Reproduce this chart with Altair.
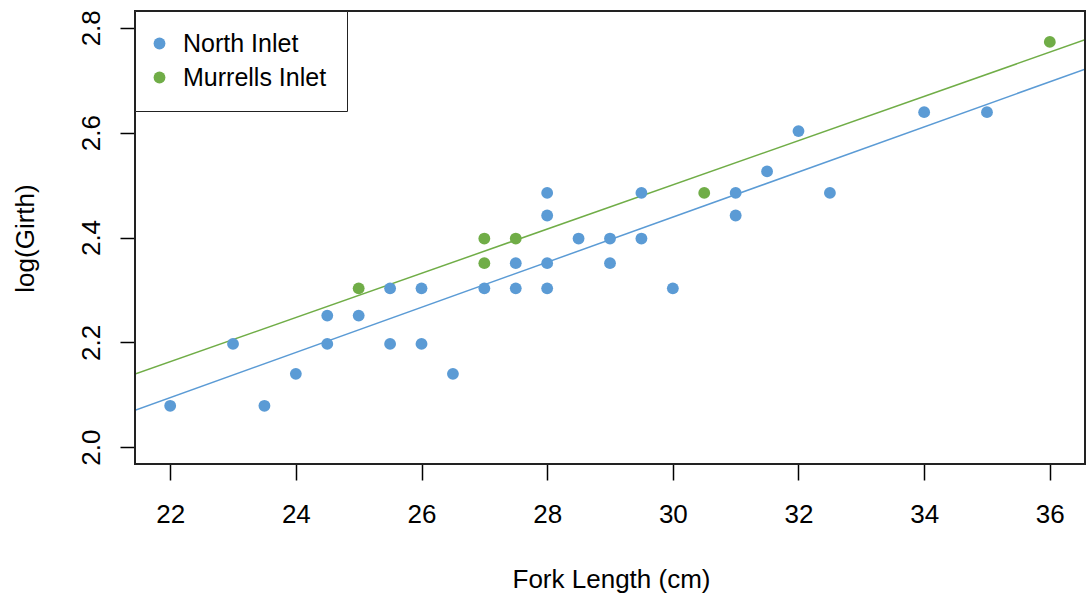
import altair as alt
import pandas as pd

# North Inlet points (fork length cm, log girth)
north_x = [22, 23, 23.5, 24, 24.5, 24.5, 25, 25.5, 25.5, 26, 26, 26.5, 27,
           27.5, 27.5, 28, 28, 28, 28, 28.5, 29, 29, 29.5, 29.5, 30,
           31, 31, 31.5, 32, 32.5, 34, 35]
north_y = [2.079, 2.197, 2.079, 2.140, 2.251, 2.197, 2.251, 2.303, 2.197, 2.303, 2.197, 2.140, 2.303,
           2.351, 2.303, 2.485, 2.442, 2.351, 2.303, 2.398, 2.398, 2.351, 2.485, 2.398, 2.303,
           2.485, 2.442, 2.526, 2.603, 2.485, 2.639, 2.639]

# Murrells Inlet points
murrells_x = [25, 27, 27, 27.5, 30.5, 36]
murrells_y = [2.303, 2.398, 2.351, 2.398, 2.485, 2.773]

# Fitted lines (read at the plot edges)
line_x = [21.44, 36.56]
north_line_y = [2.0706, 2.7211]
murrells_line_y = [2.1394, 2.7771]

groups = ["North Inlet", "Murrells Inlet"]
colors = ["#5B9BD5", "#70AD47"]

x_ticks = [22, 24, 26, 28, 30, 32, 34, 36]
y_ticks = [2.0, 2.2, 2.4, 2.6, 2.8]
x_domain = [21.44, 36.56]
y_domain = [1.968, 2.832]

pts = pd.DataFrame(
    [{"len": x, "lg": y, "site": groups[0]} for x, y in zip(north_x, north_y)]
    + [{"len": x, "lg": y, "site": groups[1]} for x, y in zip(murrells_x, murrells_y)]
)
lines = pd.DataFrame(
    [{"len": x, "lg": y, "site": groups[0]} for x, y in zip(line_x, north_line_y)]
    + [{"len": x, "lg": y, "site": groups[1]} for x, y in zip(line_x, murrells_line_y)]
)

FONT = "Liberation Sans"
W, H = 950, 453

xscale = alt.Scale(domain=x_domain, nice=False, zero=False)
yscale = alt.Scale(domain=y_domain, nice=False, zero=False)

xaxis = alt.Axis(
    values=x_ticks, title="Fork Length (cm)", grid=False, domain=False,
    tickSize=16, tickWidth=1.5, tickColor="black",
    labelFont=FONT, labelFontSize=26, labelColor="black",
    labelPadding=42, labelBaseline="alphabetic", labelAlign="center",
    labelFlush=False, labelOverlap=False,
    titleFont=FONT, titleFontSize=26, titleFontWeight="normal", titleColor="black",
    titleX=476, titleY=123, titleBaseline="alphabetic", titleAlign="center",
)
yaxis = alt.Axis(
    values=y_ticks, format=".1f", title="log(Girth)", grid=False, domain=False,
    tickSize=15, tickWidth=1.5, tickColor="black",
    labelFont=FONT, labelFontSize=26, labelColor="black",
    labelAngle=270, labelAlign="center", labelBaseline="alphabetic",
    labelPadding=21, labelFlush=False, labelOverlap=False,
    titleFont=FONT, titleFontSize=26, titleFontWeight="normal", titleColor="black",
    titleAngle=270, titleX=-102, titleY=227, titleBaseline="alphabetic", titleAlign="center",
)

line_layers = []
for g, c in zip(groups, colors):
    line_layers.append(
        alt.Chart(lines).transform_filter(alt.datum.site == g)
        .mark_line(color=c, strokeWidth=1.5, clip=True)
        .encode(x=alt.X("len:Q", scale=xscale, axis=xaxis),
                y=alt.Y("lg:Q", scale=yscale, axis=yaxis))
    )

points = alt.Chart(pts).mark_circle(size=140, opacity=1).encode(
    x=alt.X("len:Q", scale=xscale, axis=xaxis),
    y=alt.Y("lg:Q", scale=yscale, axis=yaxis),
    color=alt.Color(
        "site:N",
        scale=alt.Scale(domain=groups, range=colors),
        sort=groups,
        legend=alt.Legend(
            title=None, orient="top-left", offset=0, padding=20,
            strokeColor="#222222", fillColor="white", cornerRadius=0,
            symbolType="circle", symbolSize=140, symbolStrokeWidth=0,
            symbolOffset=-8,
            labelFont=FONT, labelFontSize=25, labelColor="black",
            labelOffset=11, rowPadding=8,
        ),
    ),
)

# plot frame (R box())
frame = alt.Chart(pd.DataFrame({"k": [0]})).mark_rect(
    fillOpacity=0, stroke="#222222", strokeWidth=2
).encode(x=alt.value(0), x2=alt.value(W), y=alt.value(0), y2=alt.value(H))

chart = alt.layer(*line_layers, points, frame).properties(
    width=W, height=H,
    autosize=alt.AutoSizeParams(type="none"),
    padding={"left": 135, "top": 11, "right": 1, "bottom": 136},
).configure_view(
    strokeWidth=0
).configure(background="white")

chart.save("out.html", embed_options={"renderer": "svg", "actions": False})
